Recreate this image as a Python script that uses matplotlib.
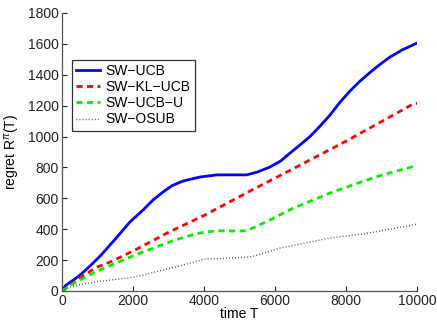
import matplotlib
matplotlib.use("Agg")
import matplotlib.pyplot as plt

plt.rcParams['font.family'] = ['Liberation Sans', 'DejaVu Sans']
plt.rcParams['mathtext.fontset'] = 'custom'
plt.rcParams['mathtext.rm'] = 'Liberation Sans'
plt.rcParams['mathtext.it'] = 'Liberation Sans:italic'

t_ucb = [0, 100, 250, 450, 600, 817, 1099, 1450, 1915, 2282, 2563, 2845, 3099, 3408, 3887,
         4366, 4800, 5200, 5500, 5859, 6150, 6423, 6700, 6986, 7270, 7549, 7830, 8113, 8400,
         8676, 8950, 9239, 9600, 10000]
r_ucb = [0, 35, 60, 92, 122, 168, 232, 323, 447, 524, 589, 641, 682, 712, 738,
         752, 752, 752, 770, 803, 840, 893, 945, 1000, 1068, 1139, 1222, 1295, 1360,
         1415, 1466, 1515, 1563, 1605]

t_kl = [0, 300, 930, 1380, 2056, 3000, 4028, 5352, 6500, 8000, 9887, 10000]
r_kl = [0, 50, 149, 190, 265, 380, 492, 654, 790, 970, 1210, 1215]

t_ucbu = [0, 300, 930, 2056, 3183, 3700, 4028, 4400, 4958, 5155, 5400, 5859, 6500, 7549, 8500, 9000, 9944, 10000]
r_ucbu = [0, 45, 123, 233, 330, 365, 382, 390, 388, 390, 410, 460, 535, 634, 712, 750, 809, 812]

t_osub = [0, 200, 500, 930, 2056, 3183, 4028, 4732, 5352, 6141, 7549, 8500, 9887, 10000]
r_osub = [0, 25, 40, 58, 91, 155, 207, 213, 222, 278, 343, 370, 427, 435]

labels = ['SW\u2212UCB', 'SW\u2212KL\u2212UCB', 'SW\u2212UCB\u2212U', 'SW\u2212OSUB']
xticks = [0, 2000, 4000, 6000, 8000, 10000]
yticks = list(range(0, 1801, 200))

fig = plt.figure(figsize=(4.37, 3.23), dpi=100)
ax = fig.add_axes([62/437, 1 - 291/323, (417-62)/437, (291-13)/323])

ax.plot(t_ucb, r_ucb, color='#0000ff', lw=2.0, ls='-', label=labels[0])
ax.plot(t_kl, r_kl, color='#ff0000', lw=2.0, ls=(0, (2.2, 1.6)), label=labels[1])
ax.plot(t_ucbu, r_ucbu, color='#00ee00', lw=2.0, ls=(0, (2.2, 1.6)), label=labels[2])
ax.plot(t_osub, r_osub, color='#333333', lw=1.0, ls=(0, (0.6, 1.6)), label=labels[3])

ax.set_xlim(0, 10000)
ax.set_ylim(0, 1800)
ax.set_xticks(xticks)
ax.set_yticks(yticks)
ax.tick_params(direction='in', length=3.5, labelsize=10, width=0.8, colors='#222222', pad=2.5)
for s in ['top', 'right']:
    ax.spines[s].set_visible(False)
for s in ['left', 'bottom']:
    ax.spines[s].set_color('#555555')
    ax.spines[s].set_linewidth(0.9)

ax.set_xlabel('time T', fontsize=10, labelpad=-1)
ax.set_ylabel(r'regret R$^{\pi}$(T)', fontsize=10, labelpad=4)

leg = fig.legend(loc='upper left', bbox_to_anchor=(72/437, 1 - 60/323), fontsize=10,
                 frameon=True, fancybox=False, edgecolor='black', handlelength=1.7,
                 handletextpad=0.4, borderpad=0.3, labelspacing=0.15, borderaxespad=0)
leg.get_frame().set_linewidth(0.9)

fig.savefig('out.png', dpi=100)
